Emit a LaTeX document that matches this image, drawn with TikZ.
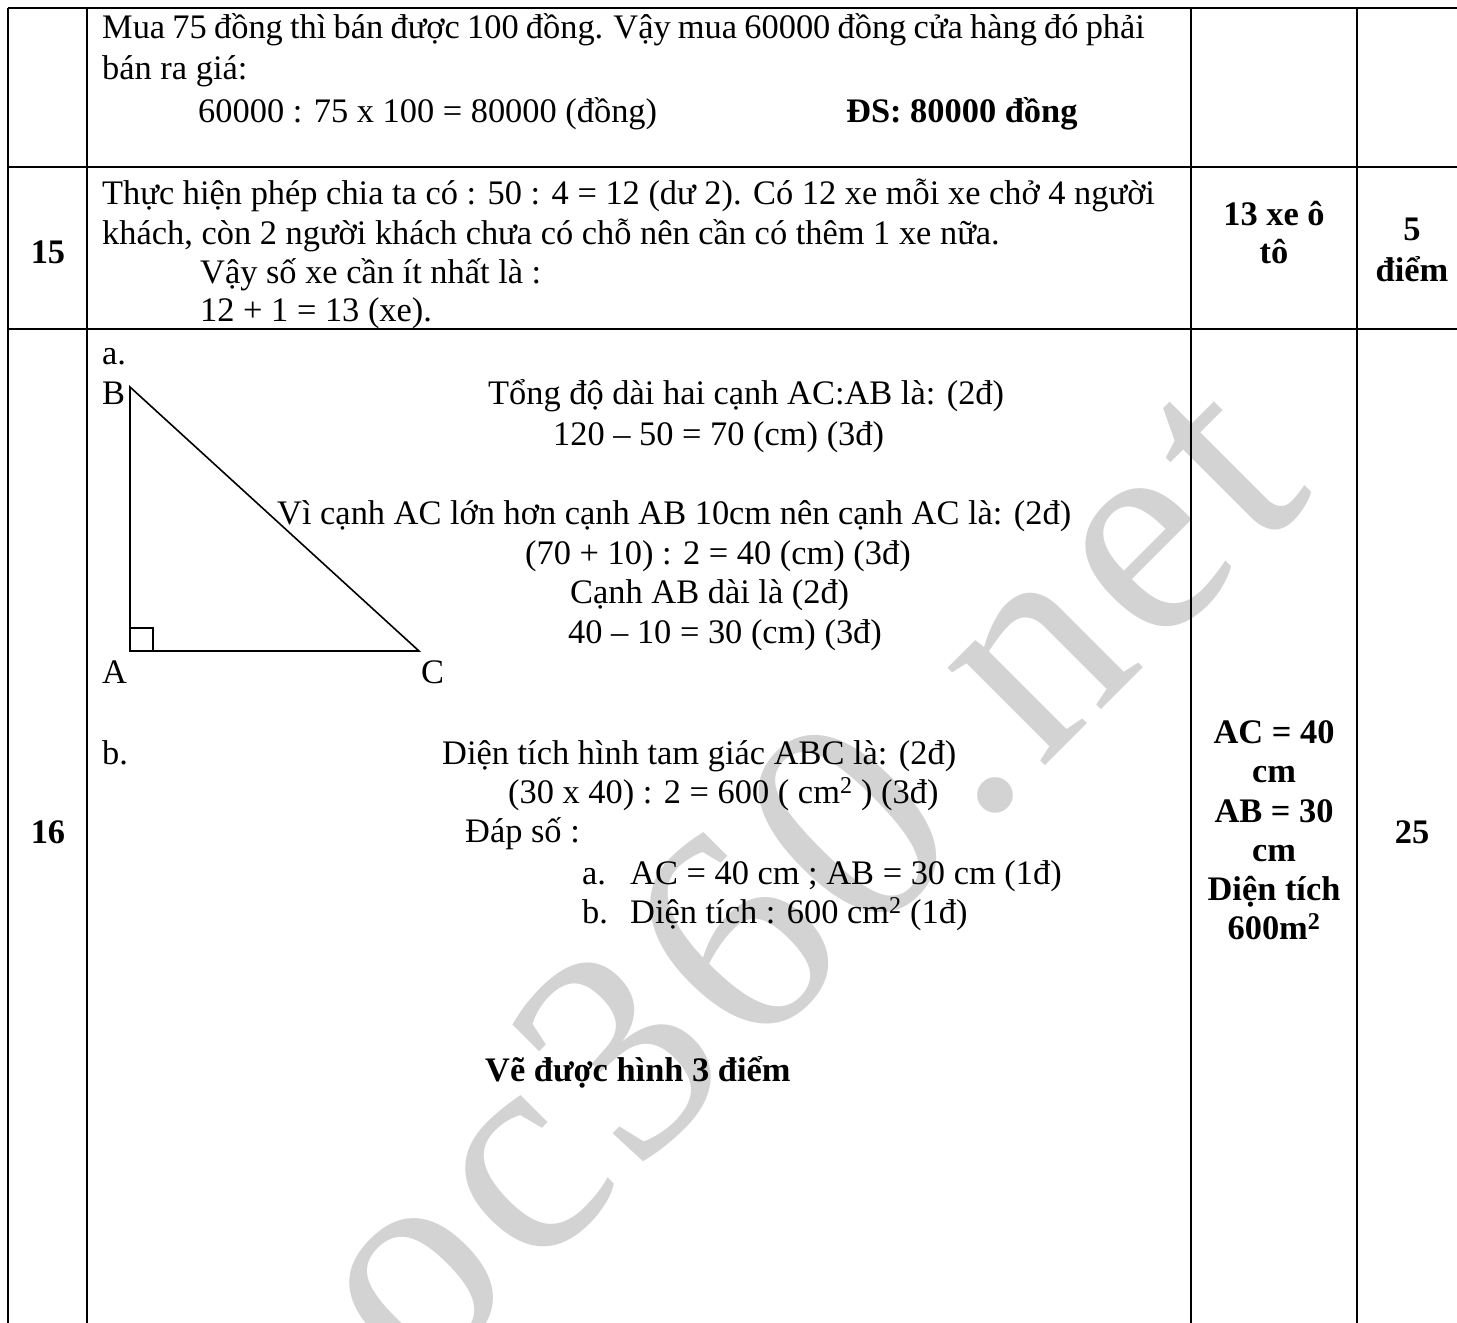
\documentclass[tikz,border=0pt]{standalone}
\usepackage{fontspec}
\setmainfont{Liberation Serif}
\usetikzlibrary{calc}
\definecolor{wmgray}{RGB}{211,211,211}
\begin{document}
\begin{tikzpicture}[x=1pt,y=-1pt,
  tx/.style={anchor=base west,inner sep=0pt,font=\fontsize{34.4}{40}\selectfont},
  txb/.style={anchor=base west,inner sep=0pt,font=\fontsize{34.4}{40}\selectfont\bfseries},
  tc/.style={anchor=base,inner sep=0pt,font=\fontsize{34.4}{40}\selectfont\bfseries},
  gridline/.style={line width=2.4pt},
  tri/.style={line width=1.6pt,line join=miter},
  wm/.style={anchor=base,inner sep=0pt,rotate=45,text=wmgray,font=\fontsize{300}{300}\selectfont}]
\useasboundingbox (0,0) rectangle (1457,1323);
% watermark
\foreach \ch/\p [count=\i] in {o/-614,c/-460.5,3/-307,6/-145,0/17,./141.5,n/266,e/419.5,t/539.5}
  \node[wm] (wm\i) at ({0.7071*(\p+1280)},{0.7071*(1280-\p)}) {\ch};
% table
\draw[gridline] (8,8) -- (1470,8);
\draw[gridline] (8,167) -- (1470,167);
\draw[gridline] (8,329) -- (1470,329);
\draw[gridline] (8,8) -- (8,1330);
\draw[gridline] (87,8) -- (87,1330);
\draw[gridline] (1191,8) -- (1191,1330);
\draw[gridline] (1357,8) -- (1357,1330);
% row 1
\node[tx] (r1a) at (102,38) {\spaceskip=0.21em\relax Mua 75 đồng thì bán được 100 đồng. Vậy mua 60000 đồng cửa hàng đó phải};
\node[tx] (r1b) at (102,79) {bán ra giá:};
\node[tx] (r1c) at (198,122) {60000 : 75 x 100 = 80000 (đồng)};
\node[txb] (r1d) at (846,122) {ĐS: 80000 đồng};
% row 2
\node[tc] (n15) at (48,263) {15};
\node[tx] (r2a) at (102,204) {Thực hiện phép chia ta có : 50 : 4 = 12 (dư 2). Có 12 xe mỗi xe chở 4 người};
\node[tx] (r2b) at (102,244) {khách, còn 2 người khách chưa có chỗ nên cần có thêm 1 xe nữa.};
\node[tx] (r2c) at (200,283) {Vậy số xe cần ít nhất là :};
\node[tx] (r2d) at (200,321) {12 + 1 = 13 (xe).};
\node[tc] (r2e) at (1274,225) {13 xe ô};
\node[tc] (r2f) at (1274,263) {tô};
\node[tc] (r2g) at (1412,240) {5};
\node[tc] (r2h) at (1412,281) {điểm};
% row 3
\node[tc] (n16) at (48,843) {16};
\node[tx] (la) at (102,364) {a.};
\node[tx] (lB) at (102,404) {B};
\node[tx] (lA) at (102,683) {A};
\node[tx] (lC) at (421,683) {C};
\coordinate (B) at (130,387);
\coordinate (A) at (130,651);
\coordinate (C) at (419,651);
\draw[tri] (B) -- (A) -- (C) -- cycle;
\draw[line width=1.4pt] ($(A)+(0,-23)$) -- ++(23,0) -- ++(0,23);
\node[tx] (t1) at (488,404) {Tổng độ dài hai cạnh AC:AB là: (2đ)};
\node[tx] (t2) at (553,445) {120 – 50 = 70 (cm) (3đ)};
\node[tx] (t3) at (277,524) {Vì cạnh AC lớn hơn cạnh AB 10cm nên cạnh AC là: (2đ)};
\node[tx] (t4) at (525,564) {(70 + 10) : 2 = 40 (cm) (3đ)};
\node[tx] (t5) at (570,603) {Cạnh AB dài là (2đ)};
\node[tx] (t6) at (568,643) {40 – 10 = 30 (cm) (3đ)};
\node[tx] (lb) at (102,764) {b.};
\node[tx] (t7) at (442,764) {Diện tích hình tam giác ABC là: (2đ)};
\node[tx] (t8) at (508,803) {(30 x 40) : 2 = 600 ( cm\textsuperscript{2} ) (3đ)};
\node[tx] (t9) at (465,842) {Đáp số :};
\node[tx] (t10a) at (582,884) {a.};
\node[tx] (t10) at (630,884) {AC = 40 cm ; AB = 30 cm (1đ)};
\node[tx] (t11a) at (582,923) {b.};
\node[tx] (t11) at (630,923) {Diện tích : 600 cm\textsuperscript{2} (1đ)};
\node[txb] (t12) at (485,1081) {Vẽ được hình 3 điểm};
\node[tc] (k1) at (1274,743) {AC = 40};
\node[tc] (k2) at (1274,782) {cm};
\node[tc] (k3) at (1274,822) {AB = 30};
\node[tc] (k4) at (1274,861) {cm};
\node[tc] (k5) at (1274,900) {Diện tích};
\node[tc] (k6) at (1274,939) {600m\textsuperscript{2}};
\node[tc] (k7) at (1412,843) {25};
\end{tikzpicture}
\end{document}
